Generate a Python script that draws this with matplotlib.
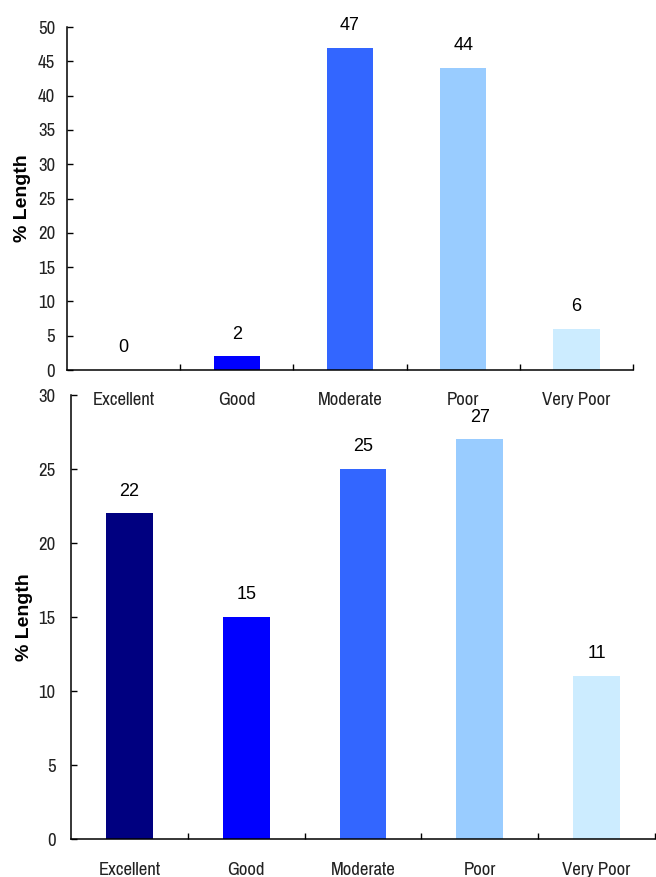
import matplotlib.pyplot as plt
from matplotlib import font_manager

categories = ["Excellent", "Good", "Moderate", "Poor", "Very Poor"]
top_values = [0, 2, 47, 44, 6]
bottom_values = [22, 15, 25, 27, 11]
bar_colors = ["#000080", "#0000FF", "#3366FF", "#99CCFF", "#CCECFF"]

# narrow face for the axis tick labels, plain sans for the rest
installed = {f.name for f in font_manager.fontManager.ttflist}
narrow = "Liberation Sans Narrow" if "Liberation Sans Narrow" in installed else "Archivo Narrow"
tick_font = [narrow, "Liberation Sans", "DejaVu Sans"]
text_font = ["Liberation Sans", "DejaVu Sans"]

fig = plt.figure(figsize=(6.56, 8.77), dpi=100)
ax_top = fig.add_axes([0.1021, 0.5781, 0.8629, 0.3911])
ax_bot = fig.add_axes([0.1082, 0.0433, 0.8903, 0.5063])


def draw_panel(ax, values, ymax, ystep, width, ypad, xpad):
    x = range(len(categories))
    ax.patch.set_visible(False)
    ax.bar(x, values, width=width, color=bar_colors, zorder=2)
    for xi, v in zip(x, values):
        ax.annotate(str(v), (xi, v), xytext=(0, 16), textcoords="offset points",
                    ha="center", va="center", fontsize=13, family=text_font,
                    color="black")
    ax.set_xlim(-0.5, len(categories) - 0.5)
    ax.set_ylim(0, ymax)
    ax.set_yticks(range(0, ymax + 1, ystep))
    ax.set_xticks(list(x))
    ax.set_xticklabels(categories)
    ax.set_xticks([i + 0.5 for i in x], minor=True)
    ax.tick_params(axis="x", which="major", length=0, pad=xpad)
    ax.tick_params(axis="x", which="minor", direction="in", length=4, width=1)
    ax.tick_params(axis="y", direction="in", length=4, width=1, pad=ypad)
    for lab in ax.get_xticklabels() + ax.get_yticklabels():
        lab.set_family(tick_font)
        lab.set_fontsize(13.5)
        lab.set_color("#222222")
    for side in ("top", "right"):
        ax.spines[side].set_visible(False)
    for side in ("left", "bottom"):
        ax.spines[side].set_linewidth(1.1)
        ax.spines[side].set_color("black")
    ax.set_ylabel("% Length", fontsize=14, fontweight="bold", family=text_font)


draw_panel(ax_top, top_values, 50, 5, 0.41, 8.5, 16)
draw_panel(ax_bot, bottom_values, 30, 5, 0.40, 11, 16.5)
ax_top.yaxis.set_label_coords(-0.063, 0.5)
ax_bot.yaxis.set_label_coords(-0.065, 0.5)

fig.savefig("out.png", dpi=100)
